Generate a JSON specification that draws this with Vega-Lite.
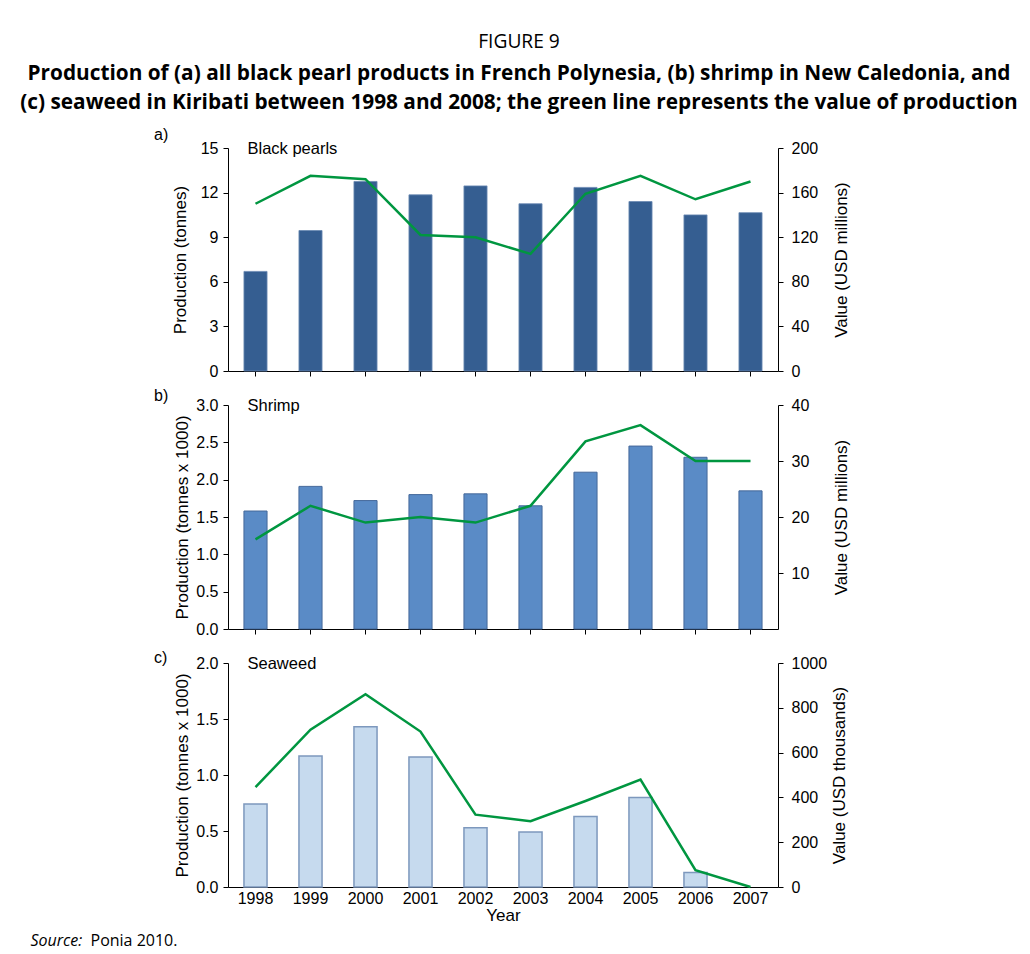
{
  "$schema": "https://vega.github.io/schema/vega-lite/v6.json",
  "autosize": {"type": "pad"},
  "padding": {"left": 20, "top": 33, "right": 5, "bottom": 5},
  "background": "white",
  "title": {
    "text": "FIGURE 9",
    "subtitle": ["Production of (a) all black pearl products in French Polynesia, (b) shrimp in New Caledonia, and", "(c) seaweed in Kiribati between 1998 and 2008; the green line represents the value of production"],
    "anchor": "middle",
    "frame": "group",
    "dx": 16,
    "offset": 14,
    "font": "Open Sans",
    "fontSize": 19.2,
    "fontWeight": "normal",
    "color": "black",
    "subtitleFont": "Open Sans",
    "subtitleFontSize": 20.8,
    "subtitleFontWeight": "bold",
    "subtitleColor": "black",
    "subtitleLineHeight": 29,
    "subtitlePadding": 12
  },
  "datasets": {
    "pearls": [
      {"year": 1998, "production": 6.7, "value": 150},
      {"year": 1999, "production": 9.45, "value": 175},
      {"year": 2000, "production": 12.75, "value": 172},
      {"year": 2001, "production": 11.85, "value": 122},
      {"year": 2002, "production": 12.45, "value": 120},
      {"year": 2003, "production": 11.25, "value": 105},
      {"year": 2004, "production": 12.35, "value": 159},
      {"year": 2005, "production": 11.4, "value": 175},
      {"year": 2006, "production": 10.5, "value": 154},
      {"year": 2007, "production": 10.65, "value": 170}
    ],
    "shrimp": [
      {"year": 1998, "production": 1.58, "value": 16},
      {"year": 1999, "production": 1.91, "value": 22},
      {"year": 2000, "production": 1.72, "value": 19},
      {"year": 2001, "production": 1.8, "value": 20},
      {"year": 2002, "production": 1.81, "value": 19},
      {"year": 2003, "production": 1.65, "value": 22},
      {"year": 2004, "production": 2.1, "value": 33.5},
      {"year": 2005, "production": 2.45, "value": 36.4},
      {"year": 2006, "production": 2.3, "value": 30},
      {"year": 2007, "production": 1.85, "value": 30}
    ],
    "seaweed": [
      {"year": 1998, "production": 0.74, "value": 446},
      {"year": 1999, "production": 1.17, "value": 702},
      {"year": 2000, "production": 1.43, "value": 861},
      {"year": 2001, "production": 1.16, "value": 694},
      {"year": 2002, "production": 0.53, "value": 323},
      {"year": 2003, "production": 0.49, "value": 294},
      {"year": 2004, "production": 0.63, "value": 384},
      {"year": 2005, "production": 0.8, "value": 480},
      {"year": 2006, "production": 0.13, "value": 75},
      {"year": 2007, "production": null, "value": 0}
    ],
    "one": [{"label": "x"}]
  },
  "spacing": 34,
  "bounds": "flush",
  "vconcat": [
    {
      "width": 550,
      "height": 223,
      "title": {"text": "a)", "anchor": "start", "frame": "group", "dx": -74, "offset": -3, "font": "Liberation Sans", "fontSize": 16, "fontWeight": "normal", "color": "black"},
      "data": {"name": "pearls"},
      "encoding": {
        "x": {"field": "year", "type": "ordinal", "scale": {"paddingInner": 0, "paddingOuter": 0}, "axis": {"labels": false, "title": null, "ticks": true, "tickSize": 5, "domain": true}}
      },
      "layer": [
        {
          "layer": [
            {
              "mark": {"type": "bar", "width": {"band": 0.42}, "color": "#355e91", "stroke": "#6a89b3", "strokeWidth": 0.8},
              "encoding": {
                "y": {"field": "production", "type": "quantitative", "scale": {"domain": [0, 15], "nice": false}, "axis": {"values": [0, 3, 6, 9, 12, 15], "labelOverlap": false, "title": "Production (tonnes)", "labelPadding": 5, "titlePadding": 11}}
              }
            },
            {
              "data": {"name": "one"},
              "mark": {"type": "text", "align": "left", "baseline": "middle", "dx": -8, "dy": 1, "font": "Liberation Sans", "fontSize": 16.5, "color": "black"},
              "encoding": {"x": {"datum": 1998}, "y": {"datum": 15, "type": "quantitative", "axis": {"values": [0, 3, 6, 9, 12, 15], "labelOverlap": false, "title": "Production (tonnes)", "labelPadding": 5, "titlePadding": 11}}, "text": {"value": "Black pearls"}}
            }
          ]
        },
        {
          "mark": {"type": "line", "color": "#009640", "strokeWidth": 2.5},
          "encoding": {
            "y": {"field": "value", "type": "quantitative", "scale": {"domain": [0, 200], "nice": false}, "axis": {"orient": "right", "values": [0, 40, 80, 120, 160, 200], "title": "Value (USD millions)", "titleAngle": 270, "titleBaseline": "top", "labelPadding": 8, "titlePadding": 16}}
          }
        }
      ],
      "resolve": {"scale": {"y": "independent"}}
    },
    {
      "width": 550,
      "height": 224,
      "title": {"text": "b)", "anchor": "start", "frame": "group", "dx": -74, "offset": -7, "font": "Liberation Sans", "fontSize": 16, "fontWeight": "normal", "color": "black"},
      "data": {"name": "shrimp"},
      "encoding": {
        "x": {"field": "year", "type": "ordinal", "scale": {"paddingInner": 0, "paddingOuter": 0}, "axis": {"labels": false, "title": null, "ticks": true, "tickSize": 5, "domain": true}}
      },
      "layer": [
        {
          "layer": [
            {
              "mark": {"type": "bar", "width": {"band": 0.42}, "color": "#5a8bc6", "stroke": "#45689a", "strokeWidth": 1},
              "encoding": {
                "y": {"field": "production", "type": "quantitative", "scale": {"domain": [0, 3], "nice": false}, "axis": {"values": [0, 0.5, 1, 1.5, 2, 2.5, 3], "labelOverlap": false, "format": ".1f", "title": "Production (tonnes x 1000)", "labelPadding": 5, "titlePadding": 4}}
              }
            },
            {
              "data": {"name": "one"},
              "mark": {"type": "text", "align": "left", "baseline": "middle", "dx": -8, "dy": 1, "font": "Liberation Sans", "fontSize": 16.5, "color": "black"},
              "encoding": {"x": {"datum": 1998}, "y": {"datum": 3, "type": "quantitative", "axis": {"values": [0, 0.5, 1, 1.5, 2, 2.5, 3], "labelOverlap": false, "format": ".1f", "title": "Production (tonnes x 1000)", "labelPadding": 5, "titlePadding": 4}}, "text": {"value": "Shrimp"}}
            }
          ]
        },
        {
          "mark": {"type": "line", "color": "#009640", "strokeWidth": 2.5},
          "encoding": {
            "y": {"field": "value", "type": "quantitative", "scale": {"domain": [0, 40], "nice": false}, "axis": {"orient": "right", "values": [10, 20, 30, 40], "title": "Value (USD millions)", "titleAngle": 270, "titleBaseline": "top", "labelPadding": 8, "titlePadding": 25}}
          }
        }
      ],
      "resolve": {"scale": {"y": "independent"}}
    },
    {
      "width": 550,
      "height": 224,
      "title": {"text": "c)", "anchor": "start", "frame": "group", "dx": -74, "offset": -11, "font": "Liberation Sans", "fontSize": 16, "fontWeight": "normal", "color": "black"},
      "data": {"name": "seaweed"},
      "encoding": {
        "x": {"field": "year", "type": "ordinal", "scale": {"paddingInner": 0, "paddingOuter": 0}, "axis": {"labels": true, "labelAngle": 0, "title": "Year", "ticks": false, "tickSize": 0, "labelPadding": 3, "titlePadding": 1, "domain": true}}
      },
      "layer": [
        {
          "layer": [
            {
              "mark": {"type": "bar", "width": {"band": 0.42}, "color": "#c6daee", "stroke": "#7d98bd", "strokeWidth": 1.5},
              "encoding": {
                "y": {"field": "production", "type": "quantitative", "scale": {"domain": [0, 2], "nice": false}, "axis": {"values": [0, 0.5, 1, 1.5, 2], "labelOverlap": false, "format": ".1f", "title": "Production (tonnes x 1000)", "labelPadding": 5, "titlePadding": 4}}
              }
            },
            {
              "data": {"name": "one"},
              "mark": {"type": "text", "align": "left", "baseline": "middle", "dx": -8, "dy": 1, "font": "Liberation Sans", "fontSize": 16.5, "color": "black"},
              "encoding": {"x": {"datum": 1998}, "y": {"datum": 2, "type": "quantitative", "axis": {"values": [0, 0.5, 1, 1.5, 2], "labelOverlap": false, "format": ".1f", "title": "Production (tonnes x 1000)", "labelPadding": 5, "titlePadding": 4}}, "text": {"value": "Seaweed"}}
            },
            {
              "data": {"name": "one"},
              "mark": {"type": "text", "align": "left", "baseline": "middle", "dx": -225, "dy": 54, "font": "Open Sans", "fontSize": 16, "fontStyle": "italic", "color": "black"},
              "encoding": {"x": {"datum": 1998}, "y": {"datum": 0, "type": "quantitative", "axis": {"values": [0, 0.5, 1, 1.5, 2], "labelOverlap": false, "format": ".1f", "title": "Production (tonnes x 1000)", "labelPadding": 5, "titlePadding": 4}}, "text": {"value": "Source:"}}
            },
            {
              "data": {"name": "one"},
              "mark": {"type": "text", "align": "left", "baseline": "middle", "dx": -165, "dy": 54, "font": "Open Sans", "fontSize": 16, "color": "black"},
              "encoding": {"x": {"datum": 1998}, "y": {"datum": 0, "type": "quantitative", "axis": {"values": [0, 0.5, 1, 1.5, 2], "labelOverlap": false, "format": ".1f", "title": "Production (tonnes x 1000)", "labelPadding": 5, "titlePadding": 4}}, "text": {"value": "Ponia 2010."}}
            }
          ]
        },
        {
          "mark": {"type": "line", "color": "#009640", "strokeWidth": 2.5},
          "encoding": {
            "y": {"field": "value", "type": "quantitative", "scale": {"domain": [0, 1000], "nice": false}, "axis": {"orient": "right", "values": [0, 200, 400, 600, 800, 1000], "format": "d", "title": "Value (USD thousands)", "titleAngle": 270, "titleBaseline": "top", "labelPadding": 8, "titlePadding": 5}}
          }
        }
      ],
      "resolve": {"scale": {"y": "independent"}}
    }
  ],
  "config": {
    "view": {"stroke": null},
    "axis": {
      "labelFont": "Liberation Sans",
      "titleFont": "Liberation Sans",
      "labelFontSize": 16,
      "titleFontSize": 17,
      "labelColor": "black",
      "titleColor": "black",
      "titleFontWeight": "normal",
      "domainColor": "black",
      "tickColor": "black",
      "grid": false,
      "tickSize": 5,
      "labelOverlap": false
    }
  }
}
